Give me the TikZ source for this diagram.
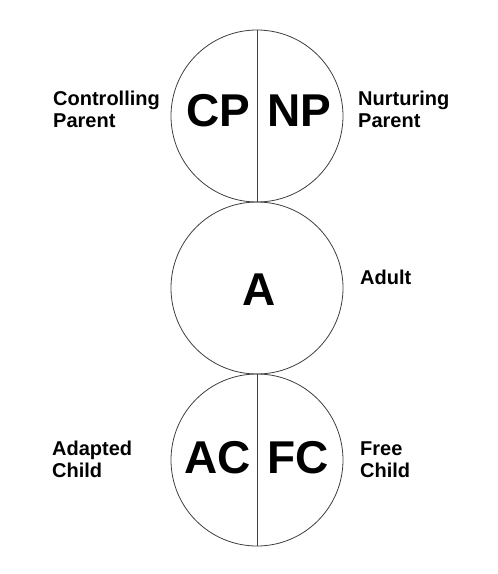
\documentclass[tikz,border=0pt]{standalone}
\usepackage{fontspec}
\setmainfont{Liberation Sans}
\begin{document}
\begin{tikzpicture}[x=1pt,y=-1pt,
  ring/.style={circle,draw=black!75,line width=0.8pt,minimum size=172pt,inner sep=0pt},
  divider/.style={draw=black!75,line width=0.8pt},
  big/.style={font=\fontsize{46}{50}\selectfont\bfseries,inner sep=0pt,anchor=base},
  lbl/.style={font=\fontsize{20}{22}\selectfont\bfseries,inner sep=0pt,anchor=base west,align=left}]
\useasboundingbox[fill=white] (0,0) rectangle (498,574);
\node[ring] (top) at (257,116) {};
\node[ring] (mid) at (257,288) {};
\node[ring] (bot) at (257,460) {};
\draw[divider] (top.north) -- (top.south);
\draw[divider] (bot.north) -- (bot.south);
\node[big] (cp) at (218,126) {CP};
\node[big] (np) at (299.5,126) {NP};
\node[big] (a) at (259.5,305) {A};
\node[big] (ac) at (217.5,473) {AC};
\node[big] (fc) at (298,473) {FC};
\node[lbl] (cpl) at (53,127) {Controlling\\Parent};
\node[lbl] (npl) at (358,127) {Nurturing\\Parent};
\node[lbl] (al) at (360,284) {Adult};
\node[lbl] (acl) at (52,477) {Adapted\\Child};
\node[lbl] (fcl) at (360,477) {Free\\Child};
\end{tikzpicture}
\end{document}
